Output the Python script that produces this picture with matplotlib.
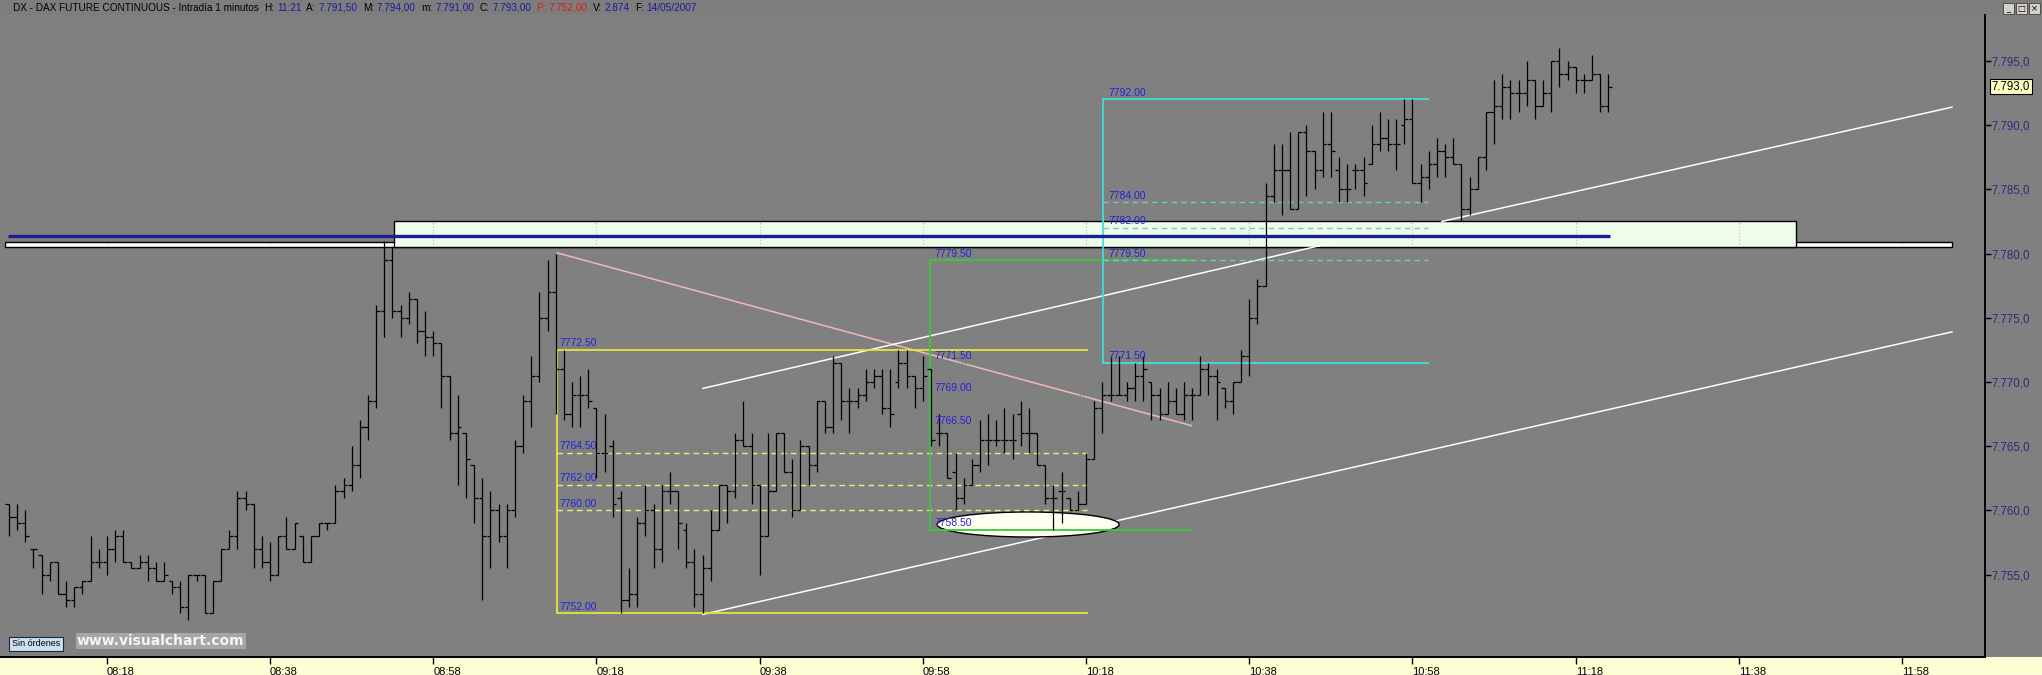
import matplotlib
matplotlib.use("Agg")
import matplotlib.pyplot as plt
from matplotlib.collections import LineCollection
from matplotlib.patches import Rectangle, Ellipse
from matplotlib.transforms import blended_transform_factory

# ---------------- data ----------------
first_minute = 6          # first bar = 08:06 (minutes after 08:00)
opens = [
    7760.5, 7759.5, 7759.0, 7757.0, 7756.5, 7755.0, 7756.0, 7753.5, 7753.0, 7754.0,
    7754.5, 7756.0, 7756.0, 7757.0, 7758.0, 7756.0, 7755.5, 7756.0, 7755.5, 7754.5,
    7754.5, 7754.0, 7752.5, 7755.0, 7755.0, 7752.0, 7754.5, 7757.0, 7758.0, 7761.0,
    7760.5, 7757.0, 7756.0, 7755.0, 7758.0, 7757.0, 7758.0, 7756.0, 7758.0, 7759.0,
    7759.0, 7761.5, 7762.0, 7763.5, 7766.5, 7768.5, 7775.5, 7779.5, 7775.5, 7775.0,
    7776.5, 7774.0, 7773.5, 7773.0, 7770.5, 7766.0, 7766.0, 7763.5, 7761.0, 7758.0,
    7760.0, 7758.0, 7760.0, 7765.0, 7768.5, 7770.5, 7775.0, 7777.0, 7771.0, 7767.5,
    7769.0, 7769.0, 7768.0, 7764.5, 7765.0, 7761.0, 7753.0, 7753.5, 7759.0, 7760.0,
    7757.0, 7761.5, 7761.5, 7758.5, 7756.0, 7753.5, 7755.5, 7758.5, 7762.0, 7761.5,
    7765.5, 7765.0, 7762.0, 7758.0, 7761.5, 7766.0, 7763.0, 7760.0, 7765.0, 7763.5,
    7768.5, 7766.5, 7771.5, 7768.5, 7768.5, 7769.0, 7770.0, 7770.5, 7768.0, 7770.0,
    7771.5, 7770.5, 7769.5, 7771.0, 7766.0, 7766.0, 7763.0, 7761.0, 7762.0, 7763.5,
    7765.5, 7765.5, 7765.5, 7765.5, 7767.5, 7766.0, 7766.0, 7763.5, 7761.0, 7761.5,
    7761.0, 7760.0, 7760.5, 7764.0, 7768.0, 7769.0, 7769.0, 7769.0, 7769.5, 7770.5,
    7770.0, 7769.0, 7767.5, 7768.5, 7767.5, 7769.0, 7769.0, 7771.0, 7770.5, 7769.5,
    7768.5, 7770.0, 7772.0, 7775.0, 7777.5, 7784.5, 7786.5, 7786.5, 7783.5, 7789.5,
    7788.0, 7786.5, 7788.5, 7786.5, 7785.0, 7786.5, 7786.5, 7787.0, 7788.5, 7789.0,
    7788.5, 7790.0, 7790.5, 7785.5, 7786.0, 7787.0, 7788.0, 7787.5, 7787.0, 7783.5,
    7785.0, 7787.5, 7791.0, 7791.5, 7793.0, 7792.5, 7792.5, 7793.5, 7791.5, 7792.5,
    7795.0, 7794.0, 7794.5, 7793.5, 7793.5, 7794.0, 7791.5,
]
highs = [
    7760.5, 7760.5, 7760.0, 7757.0, 7756.5, 7756.0, 7756.0, 7754.5, 7754.0, 7754.5,
    7758.0, 7757.0, 7758.0, 7758.5, 7758.5, 7756.0, 7756.5, 7756.5, 7756.0, 7756.0,
    7754.5, 7754.5, 7755.0, 7755.0, 7755.0, 7754.5, 7757.0, 7758.5, 7761.5, 7761.5,
    7760.5, 7758.0, 7757.5, 7758.0, 7759.5, 7759.0, 7758.0, 7758.0, 7759.0, 7759.0,
    7762.0, 7762.5, 7765.0, 7767.0, 7769.0, 7776.0, 7781.0, 7780.5, 7776.0, 7777.0,
    7776.5, 7775.5, 7774.0, 7773.0, 7770.5, 7769.0, 7766.0, 7763.5, 7762.5, 7761.5,
    7760.5, 7760.5, 7765.5, 7769.0, 7772.0, 7777.0, 7779.5, 7780.0, 7772.5, 7770.0,
    7770.5, 7771.0, 7768.0, 7767.5, 7765.5, 7761.5, 7755.5, 7759.5, 7762.0, 7760.5,
    7762.0, 7763.0, 7761.5, 7759.0, 7757.0, 7756.5, 7760.0, 7762.0, 7762.0, 7766.0,
    7768.5, 7766.0, 7762.0, 7766.0, 7766.0, 7766.0, 7764.0, 7765.5, 7765.0, 7768.5,
    7768.5, 7772.0, 7771.5, 7769.5, 7769.5, 7771.0, 7771.0, 7771.0, 7771.0, 7772.5,
    7772.5, 7770.5, 7772.0, 7771.0, 7767.5, 7766.0, 7764.5, 7762.5, 7764.0, 7767.0,
    7767.5, 7767.0, 7768.0, 7767.5, 7768.5, 7768.0, 7766.0, 7763.5, 7762.0, 7763.0,
    7761.0, 7761.5, 7764.5, 7768.5, 7770.0, 7772.0, 7772.0, 7770.0, 7771.5, 7772.0,
    7770.0, 7769.5, 7770.0, 7769.5, 7770.0, 7769.5, 7772.0, 7771.5, 7771.0, 7769.5,
    7770.0, 7772.5, 7776.5, 7778.0, 7785.5, 7788.5, 7788.5, 7789.5, 7789.5, 7790.0,
    7788.0, 7791.0, 7791.0, 7787.5, 7787.0, 7787.0, 7787.5, 7790.0, 7791.0, 7790.5,
    7790.5, 7792.0, 7792.0, 7787.0, 7788.0, 7789.0, 7788.5, 7789.0, 7787.0, 7786.0,
    7787.5, 7791.0, 7793.5, 7794.0, 7793.5, 7793.5, 7795.0, 7793.5, 7793.5, 7795.0,
    7796.0, 7795.0, 7794.5, 7794.0, 7795.5, 7794.0, 7794.0,
]
lows = [
    7758.0, 7758.5, 7757.5, 7755.5, 7753.5, 7754.5, 7753.5, 7752.5, 7752.5, 7753.5,
    7754.5, 7755.5, 7755.0, 7756.0, 7756.0, 7755.5, 7755.5, 7754.5, 7754.5, 7754.5,
    7753.5, 7752.0, 7751.5, 7754.5, 7752.0, 7752.0, 7754.5, 7757.0, 7757.0, 7760.0,
    7755.5, 7755.5, 7754.5, 7755.0, 7757.0, 7757.0, 7756.0, 7756.0, 7758.0, 7758.5,
    7759.0, 7761.0, 7761.5, 7762.5, 7765.5, 7768.0, 7773.5, 7775.0, 7773.5, 7774.5,
    7773.0, 7772.0, 7772.0, 7768.0, 7765.5, 7762.0, 7761.0, 7759.0, 7753.0, 7755.5,
    7757.5, 7755.5, 7759.5, 7764.5, 7766.5, 7770.0, 7774.0, 7767.5, 7767.0, 7766.5,
    7766.5, 7768.0, 7762.5, 7763.0, 7759.5, 7752.0, 7752.5, 7752.5, 7758.0, 7755.5,
    7756.0, 7760.5, 7757.0, 7755.5, 7752.5, 7752.0, 7754.5, 7758.5, 7759.0, 7761.0,
    7765.0, 7760.5, 7755.0, 7758.0, 7761.5, 7763.0, 7759.5, 7760.0, 7762.0, 7763.0,
    7766.0, 7766.0, 7767.0, 7766.0, 7768.0, 7768.5, 7769.5, 7767.5, 7766.5, 7769.5,
    7769.5, 7768.0, 7768.5, 7765.0, 7765.0, 7762.5, 7760.0, 7760.5, 7762.0, 7763.0,
    7763.5, 7765.0, 7764.5, 7764.0, 7765.0, 7764.5, 7763.5, 7760.5, 7758.5, 7759.0,
    7760.0, 7760.0, 7760.5, 7764.0, 7766.0, 7768.5, 7769.0, 7768.5, 7768.5, 7768.5,
    7767.0, 7767.0, 7767.5, 7767.5, 7767.0, 7767.0, 7769.0, 7769.0, 7767.0, 7768.0,
    7767.5, 7770.0, 7770.5, 7774.5, 7777.5, 7784.0, 7783.0, 7783.5, 7783.5, 7784.5,
    7785.0, 7786.0, 7786.0, 7784.0, 7784.0, 7785.0, 7784.5, 7787.0, 7788.0, 7788.0,
    7786.5, 7788.5, 7785.5, 7784.0, 7785.0, 7786.0, 7786.0, 7787.0, 7782.5, 7783.0,
    7785.0, 7786.5, 7788.5, 7790.5, 7790.5, 7791.0, 7791.5, 7790.5, 7791.5, 7791.0,
    7793.0, 7793.5, 7792.5, 7792.5, 7793.5, 7791.0, 7791.0,
]
closes = [
    7759.5, 7759.0, 7758.0, 7757.0, 7755.0, 7756.0, 7753.5, 7753.0, 7754.0, 7754.5,
    7756.0, 7756.0, 7757.0, 7758.0, 7756.0, 7755.5, 7756.0, 7755.5, 7754.5, 7755.0,
    7754.0, 7752.5, 7755.0, 7755.0, 7752.0, 7754.5, 7757.0, 7758.0, 7761.0, 7760.5,
    7757.0, 7756.0, 7755.0, 7758.0, 7757.0, 7759.0, 7756.0, 7758.0, 7759.0, 7759.0,
    7761.5, 7762.0, 7763.5, 7766.5, 7768.5, 7775.5, 7779.5, 7775.5, 7775.0, 7776.5,
    7774.0, 7773.5, 7773.0, 7770.5, 7766.0, 7766.5, 7764.0, 7761.0, 7758.0, 7760.0,
    7758.0, 7760.0, 7765.0, 7768.5, 7770.5, 7775.0, 7777.0, 7771.0, 7767.5, 7769.0,
    7769.0, 7768.5, 7764.5, 7764.5, 7760.5, 7753.0, 7753.5, 7759.0, 7760.0, 7757.0,
    7761.5, 7761.5, 7759.0, 7756.0, 7753.5, 7755.5, 7758.5, 7762.0, 7761.5, 7765.5,
    7765.0, 7762.0, 7758.0, 7761.5, 7766.0, 7763.0, 7760.0, 7765.0, 7763.5, 7768.5,
    7766.5, 7771.5, 7768.5, 7768.5, 7769.0, 7770.0, 7770.5, 7768.0, 7767.5, 7771.5,
    7770.5, 7769.5, 7770.5, 7765.5, 7766.0, 7762.5, 7761.0, 7762.0, 7763.5, 7765.5,
    7765.5, 7765.5, 7765.5, 7765.5, 7766.0, 7766.0, 7763.5, 7761.0, 7761.0, 7761.5,
    7760.0, 7760.5, 7764.0, 7768.0, 7769.0, 7769.0, 7769.0, 7769.5, 7770.5, 7771.0,
    7769.0, 7767.5, 7768.5, 7767.5, 7769.0, 7769.0, 7771.0, 7770.5, 7770.0, 7768.5,
    7770.0, 7772.0, 7775.0, 7777.5, 7784.5, 7786.5, 7786.5, 7783.5, 7789.5, 7788.0,
    7786.5, 7788.5, 7788.0, 7785.0, 7785.0, 7786.5, 7785.5, 7788.5, 7789.0, 7788.5,
    7788.5, 7790.5, 7785.5, 7786.0, 7787.0, 7788.0, 7787.5, 7787.0, 7783.5, 7785.0,
    7787.5, 7791.0, 7791.5, 7793.0, 7792.5, 7792.5, 7793.5, 7791.5, 7792.5, 7795.0,
    7794.0, 7794.5, 7793.5, 7793.5, 7794.0, 7791.5, 7793.0,
]
minutes = list(range(first_minute, first_minute + len(closes)))

time_ticks = [18, 38, 58, 78, 98, 118, 138, 158, 178, 198, 218, 238]
time_labels = ["08:18", "08:38", "08:58", "09:18", "09:38", "09:58",
               "10:18", "10:38", "10:58", "11:18", "11:38", "11:58"]
price_ticks = [7755, 7760, 7765, 7770, 7775, 7780, 7785, 7790, 7795]
last_price = 7793.0

# Fibonacci boxes: levels and (start, end) minute span
yellow_levels = [7772.5, 7764.5, 7762.0, 7760.0, 7752.0]
yellow_span = (73.2, 138.1)
green_levels = [7779.5, 7771.5, 7769.0, 7766.5, 7758.5]
green_span = (118.9, 151.0)
cyan_levels = [7792.0, 7784.0, 7782.0, 7779.5, 7771.5]
cyan_span = (140.1, 179.9)

# drawn objects (minute, price) pairs
pink_line = [(73.2, 7780.05), (150.9, 7766.6)]
white_lines = [
    [(91.05, 7769.5), (167.9, 7780.8)],
    [(91.05, 7751.9), (244.1, 7773.9)],
    [(181.6, 7782.5), (244.1, 7791.4)],
]
blue_level = 7781.4
blue_span = (5.9, 202.2)
strip_span = (5.5, 244.1)
strip_prices = (7780.5, 7780.9)
zone_span = (53.2, 225.0)
zone_prices = (7780.5, 7782.5)
ellipse_center = (130.9, 7758.9)
ellipse_size = (22.3, 1.95)

header_parts = [
    ("DX - DAX FUTURE CONTINUOUS - Intradía 1 minutos", "k"),
    ("H:", "k"), ("11:21", "b"), ("A:", "k"), ("7.791,50", "b"),
    ("M:", "k"), ("7.794,00", "b"), ("m:", "k"), ("7.791,00", "b"),
    ("C:", "k"), ("7.793,00", "b"), ("P:", "r"), ("7.752,00", "r"),
    ("V:", "k"), ("2.874", "b"), ("F:", "k"), ("14/05/2007", "b"),
]

# ---------------- figure ----------------
W, H = 2042, 675
BG = "#808080"
plt.rcParams["font.family"] = ["Liberation Sans", "DejaVu Sans"]
fig = plt.figure(figsize=(W / 100, H / 100), dpi=100, facecolor=BG)

# bottom yellow strip and header band (behind the axes)
fig.patches.append(Rectangle((0, 0), 1, 18 / H, transform=fig.transFigure,
                             facecolor="#fefed4", edgecolor="none", zorder=-5))
fig.patches.append(Rectangle((0, 1 - 15 / H), 1, 15 / H, transform=fig.transFigure,
                             facecolor="#7d7d7d", edgecolor="none", zorder=-5))

ax = fig.add_axes([0, 18 / H, 1985 / W, (H - 15 - 18) / H])
ax.set_facecolor(BG)
ax.set_xlim(4.90, 248.16)
ax.set_ylim(7748.58, 7798.58)

for s in ("left", "top"):
    ax.spines[s].set_visible(False)
for s in ("right", "bottom"):
    ax.spines[s].set_color("black")
    ax.spines[s].set_linewidth(1.4)

ax.yaxis.tick_right()
ax.set_yticks(price_ticks)


def euro(v):
    s = f"{v:,.1f}"
    return s.replace(",", "X").replace(".", ",").replace("X", ".")


ax.set_yticklabels([euro(v) for v in price_ticks])
ax.tick_params(axis="y", direction="out", length=4, width=1, color="black",
               labelcolor="#2a2a7a", labelsize=8.3, pad=1)
ax.set_xticks(time_ticks)
ax.set_xticklabels(time_labels)
ax.tick_params(axis="x", direction="out", length=5, width=1, color="black",
               labelcolor="black", labelsize=8, pad=2)
for lab in ax.get_xticklabels():
    lab.set_horizontalalignment("left")

# support zone and strip
strip = Rectangle((strip_span[0], strip_prices[0]), strip_span[1] - strip_span[0],
                  strip_prices[1] - strip_prices[0], facecolor="#fafffa",
                  edgecolor="black", lw=1.0, zorder=1)
ax.add_patch(strip)
zone = Rectangle((zone_span[0], zone_prices[0]), zone_span[1] - zone_span[0],
                 zone_prices[1] - zone_prices[0], facecolor="#eefdea",
                 edgecolor="black", lw=1.0, zorder=1.2)
ax.add_patch(zone)
for patch in (strip, zone):
    for t in time_ticks:
        ln = ax.axvline(t, color="#b4b4b4", lw=0.8, ls=(0, (1, 2)), zorder=1.5)
        ln.set_clip_path(patch)

# trend lines
(px0, py0), (px1, py1) = pink_line
ax.plot([px0, px1], [py0, py1], color="#f2b8b8", lw=1.1, zorder=2)
for seg in white_lines:
    (x0, y0), (x1, y1) = seg
    ax.plot([x0, x1], [y0, y1], color="white", lw=1.1, zorder=2)

# ellipse
ax.add_patch(Ellipse(ellipse_center, ellipse_size[0], ellipse_size[1],
                     facecolor="#fffff0", edgecolor="black", lw=1.0, zorder=2.5))


def fib(levels, span, solid_color, mid_color, mid_style, label_dx):
    x0, x1 = span
    ax.plot([x0, x0], [levels[-1], levels[0]], color=solid_color, lw=1.3, zorder=3)
    for i, lvl in enumerate(levels):
        if i in (0, len(levels) - 1):
            ax.plot([x0, x1], [lvl, lvl], color=solid_color, lw=1.3, zorder=3)
        else:
            ax.plot([x0, x1], [lvl, lvl], color=mid_color, lw=1.0,
                    ls=mid_style, zorder=3)
        ax.annotate(f"{lvl:.2f}", xy=(x0 + label_dx, lvl), xytext=(0, 1),
                    textcoords="offset points", fontsize=7.5, color="#2222dd",
                    ha="left", va="bottom", zorder=6)


fib(yellow_levels, yellow_span, "#e4e43c", "#eeee80", (0, (4, 3)), 0.3)
fib(green_levels, green_span, "#3cc83c", "#5a9c6a", (0, (1, 1.5)), 0.5)
fib(cyan_levels, cyan_span, "#44dede", "#6ccccc", (0, (4, 3)), 0.6)

# OHLC bars
segs = []
tick = 0.45
for t, o, h, l, c in zip(minutes, opens, highs, lows, closes):
    segs.append([(t, l), (t, h)])
    segs.append([(t - tick, o), (t, o)])
    segs.append([(t, c), (t + tick, c)])
ax.add_collection(LineCollection(segs, colors="black", linewidths=0.9,
                                 zorder=4, capstyle="butt"))

# blue level line
ax.plot(blue_span, [blue_level, blue_level], color="#1c1c96", lw=2.4, zorder=5,
        solid_capstyle="butt")

# last price box on axis
trans = blended_transform_factory(ax.transAxes, ax.transData)
ax.text(1.0035, last_price, euro(last_price), transform=trans, fontsize=8.3,
        color="black", ha="left", va="center", clip_on=False, zorder=7,
        bbox=dict(boxstyle="square,pad=0.15", facecolor="#ffffc4",
                  edgecolor="black", lw=0.8))

# bottom-left badges
fig.text(12 / W, 1 - 644 / H, "Sin órdenes", fontsize=6.5, color="black",
         ha="left", va="center",
         bbox=dict(boxstyle="square,pad=0.3", facecolor="#cddff3",
                   edgecolor="#1a2a3a", lw=0.8))
fig.text(77 / W, 1 - 641 / H, "www.visualchart.com", fontsize=10,
         fontweight="bold", family="DejaVu Sans", color="#f4f4ff",
         ha="left", va="center",
         bbox=dict(boxstyle="square,pad=0.08", facecolor="#a6a6a6",
                   edgecolor="none"))

# window buttons
for i, g in enumerate(["_", "□", "×"]):
    x = (2003 + i * 13) / W
    fig.patches.append(Rectangle((x, 1 - 14 / H), 11 / W, 11 / H,
                                 transform=fig.transFigure, facecolor="#d4d0c8",
                                 edgecolor="#404040", lw=0.6, zorder=3))
    fig.text(x + 5.5 / W, 1 - 8.5 / H, g, fontsize=6, ha="center", va="center",
             color="black", family="DejaVu Sans", zorder=4)

# header text, drawn piece by piece
colors = {"k": "black", "b": "#1a1aa0", "r": "#e01818"}
fig.canvas.draw()
renderer = fig.canvas.get_renderer()
xpix = 13
for i, (txt, col) in enumerate(header_parts):
    tt = fig.text(xpix / W, 1 - 8 / H, txt, fontsize=7.2, color=colors[col],
                  ha="left", va="center")
    ext = tt.get_window_extent(renderer)
    gap = 3 if txt.endswith(":") else 5
    xpix = ext.x1 + gap

fig.savefig("out.png", dpi=100, facecolor=BG)
